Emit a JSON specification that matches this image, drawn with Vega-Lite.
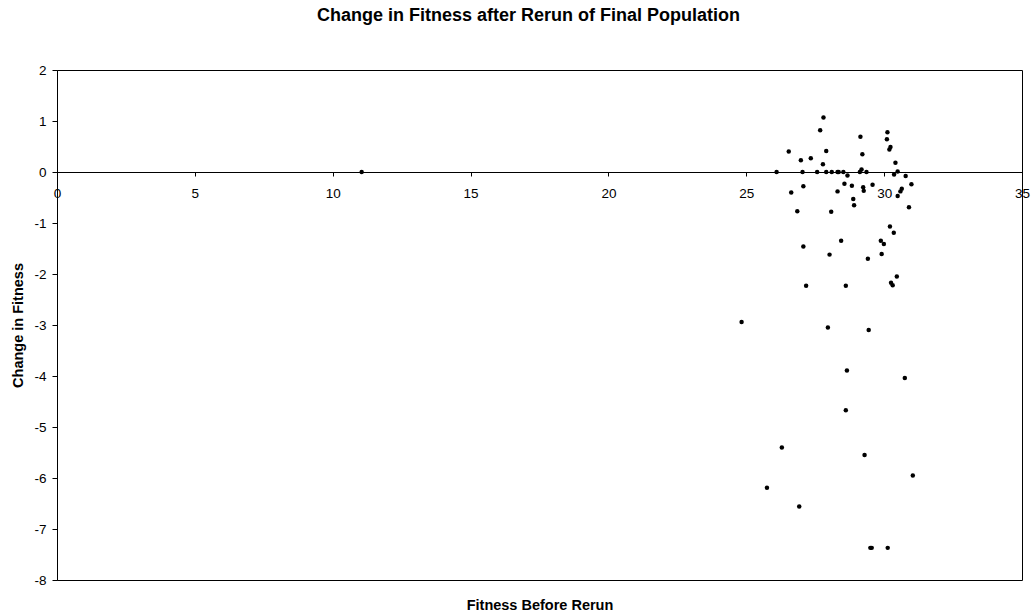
{
  "$schema": "https://vega.github.io/schema/vega-lite/v6.json",
  "autosize": {"type": "none"},
  "width": 965,
  "height": 510,
  "padding": {"left": 57, "top": 70, "right": 12, "bottom": 33},
  "background": "white",
  "config": {
    "view": {"stroke": "black", "strokeWidth": 1},
    "font": "Liberation Sans"
  },
  "title": {
    "text": "Change in Fitness after Rerun of Final Population",
    "font": "Liberation Sans",
    "fontSize": 18,
    "fontWeight": "bold",
    "color": "black",
    "anchor": "middle",
    "baseline": "alphabetic",
    "dx": -11,
    "offset": 24
  },
  "data": {
    "values": [
      {"fitness": 11.05, "change": 0},
      {"fitness": 26.10, "change": 0},
      {"fitness": 26.54, "change": 0.40},
      {"fitness": 26.63, "change": -0.40},
      {"fitness": 26.85, "change": -0.77},
      {"fitness": 26.98, "change": 0.23},
      {"fitness": 27.04, "change": 0},
      {"fitness": 27.07, "change": -0.28},
      {"fitness": 27.34, "change": 0.27},
      {"fitness": 27.57, "change": 0},
      {"fitness": 27.68, "change": 0.82},
      {"fitness": 27.80, "change": 1.07},
      {"fitness": 27.78, "change": 0.15},
      {"fitness": 27.90, "change": 0.41},
      {"fitness": 27.90, "change": 0},
      {"fitness": 28.08, "change": -0.78},
      {"fitness": 28.10, "change": 0},
      {"fitness": 28.31, "change": 0},
      {"fitness": 28.31, "change": -0.38},
      {"fitness": 28.35, "change": 0},
      {"fitness": 28.52, "change": 0},
      {"fitness": 28.56, "change": -0.23},
      {"fitness": 28.67, "change": -0.07},
      {"fitness": 28.83, "change": -0.27},
      {"fitness": 28.88, "change": -0.53},
      {"fitness": 28.91, "change": -0.65},
      {"fitness": 29.14, "change": 0.69},
      {"fitness": 29.12, "change": 0},
      {"fitness": 29.18, "change": 0.05},
      {"fitness": 29.21, "change": 0.35},
      {"fitness": 29.24, "change": -0.30},
      {"fitness": 29.26, "change": -0.37},
      {"fitness": 29.36, "change": 0},
      {"fitness": 29.58, "change": -0.25},
      {"fitness": 30.12, "change": 0.78},
      {"fitness": 30.10, "change": 0.64},
      {"fitness": 30.19, "change": 0.44},
      {"fitness": 30.23, "change": 0.49},
      {"fitness": 30.41, "change": 0.18},
      {"fitness": 30.36, "change": -0.05},
      {"fitness": 30.49, "change": 0.01},
      {"fitness": 30.49, "change": -0.47},
      {"fitness": 30.59, "change": -0.38},
      {"fitness": 30.64, "change": -0.33},
      {"fitness": 30.78, "change": -0.08},
      {"fitness": 30.99, "change": -0.24},
      {"fitness": 30.90, "change": -0.69},
      {"fitness": 30.21, "change": -1.07},
      {"fitness": 30.35, "change": -1.19},
      {"fitness": 27.07, "change": -1.46},
      {"fitness": 28.44, "change": -1.35},
      {"fitness": 29.88, "change": -1.35},
      {"fitness": 29.99, "change": -1.41},
      {"fitness": 28.02, "change": -1.62},
      {"fitness": 29.41, "change": -1.70},
      {"fitness": 29.91, "change": -1.61},
      {"fitness": 30.46, "change": -2.05},
      {"fitness": 30.25, "change": -2.17},
      {"fitness": 30.31, "change": -2.22},
      {"fitness": 27.17, "change": -2.23},
      {"fitness": 28.61, "change": -2.23},
      {"fitness": 24.83, "change": -2.94},
      {"fitness": 27.96, "change": -3.05},
      {"fitness": 29.44, "change": -3.10},
      {"fitness": 28.65, "change": -3.89},
      {"fitness": 30.75, "change": -4.04},
      {"fitness": 28.61, "change": -4.67},
      {"fitness": 26.29, "change": -5.40},
      {"fitness": 29.29, "change": -5.55},
      {"fitness": 31.04, "change": -5.95},
      {"fitness": 25.75, "change": -6.19},
      {"fitness": 26.92, "change": -6.56},
      {"fitness": 29.50, "change": -7.37},
      {"fitness": 29.55, "change": -7.37},
      {"fitness": 30.13, "change": -7.37}
    ]
  },
  "mark": {"type": "point", "filled": true, "shape": "circle", "size": 20, "color": "black", "opacity": 1},
  "encoding": {
    "x": {
      "field": "fitness",
      "type": "quantitative",
      "scale": {"domain": [0, 35], "nice": false, "zero": false},
      "axis": {
        "title": "Fitness Before Rerun",
        "titleFont": "Liberation Sans",
        "titleFontSize": 14.5,
        "titleFontWeight": "bold",
        "titleColor": "black",
        "titleY": 437,
        "titleBaseline": "alphabetic",
        "offset": -408,
        "values": [0, 5, 10, 15, 20, 25, 30, 35],
        "grid": false,
        "domainColor": "black",
        "tickColor": "black",
        "tickSize": 4,
        "labelFont": "Liberation Sans",
        "labelFontSize": 13.5,
        "labelColor": "black",
        "labelPadding": 10,
        "labelFlush": false
      }
    },
    "y": {
      "field": "change",
      "type": "quantitative",
      "scale": {"domain": [-8, 2], "nice": false, "zero": false},
      "axis": {
        "title": "Change in Fitness",
        "titleFont": "Liberation Sans",
        "titleFontSize": 14.5,
        "titleFontWeight": "bold",
        "titleColor": "black",
        "titleX": -39,
        "titleY": 255,
        "titleAngle": -90,
        "titleAlign": "center",
        "titleBaseline": "middle",
        "values": [-8, -7, -6, -5, -4, -3, -2, -1, 0, 1, 2],
        "labelExpr": "replace(datum.label, '−', '-')",
        "grid": false,
        "domainColor": "black",
        "tickColor": "black",
        "tickSize": 5,
        "labelFont": "Liberation Sans",
        "labelFontSize": 13.5,
        "labelColor": "black",
        "labelPadding": 6
      }
    }
  }
}
